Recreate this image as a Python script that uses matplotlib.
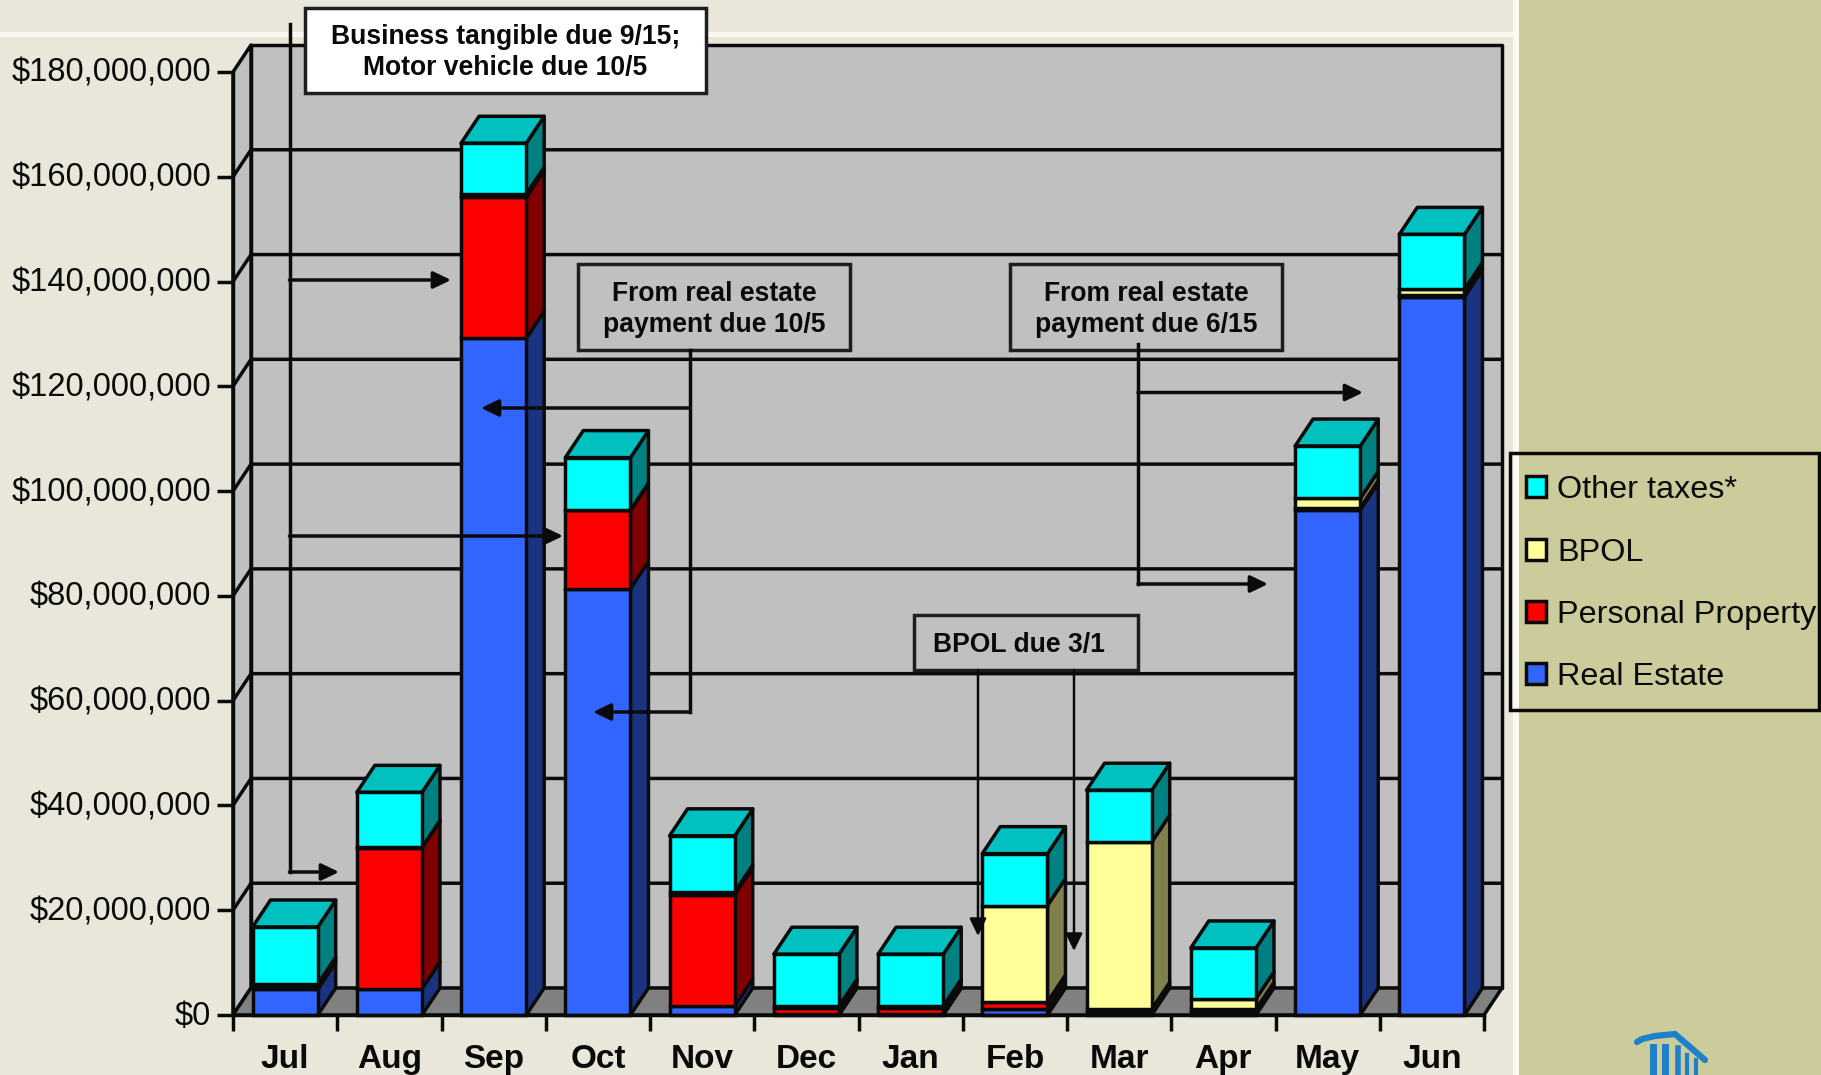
import matplotlib
matplotlib.use('Agg')
import matplotlib.pyplot as plt
import numpy as np
from matplotlib.patches import Polygon, Rectangle
from matplotlib.transforms import ScaledTranslation

plt.rcParams['font.family'] = ['Liberation Sans', 'DejaVu Sans']

months = ['Jul', 'Aug', 'Sep', 'Oct', 'Nov', 'Dec', 'Jan', 'Feb', 'Mar', 'Apr', 'May', 'Jun']

# collections per month, in millions of dollars
real_estate = [4.9, 5.0, 129.2, 81.4, 1.7, 0.1, 0.1, 1.2, 0.5, 0.5, 96.4, 137.1]
personal_property = [0.5, 26.9, 26.9, 14.9, 21.3, 1.2, 1.2, 1.3, 0.6, 0.6, 0.4, 0.3]
bpol = [0.5, 0.1, 0.6, 0.1, 0.5, 0.4, 0.4, 18.4, 31.9, 2.0, 1.8, 1.1]
other_taxes = [10.9, 10.5, 9.7, 10.0, 10.7, 9.9, 9.9, 9.9, 9.9, 9.7, 10.0, 10.5]

series_names = ['Real Estate', 'Personal Property', 'BPOL', 'Other taxes*']
series_values = [real_estate, personal_property, bpol, other_taxes]
front_colors = ['#3366FF', '#FF0000', '#FFFF99', '#00FFFF']
side_colors = ['#1A3380', '#800000', '#80804D', '#008080']
top_color = '#00C0C0'

W, H = 1821, 1075
LINE = 2.5
INK = '#0A0A0A'

fig = plt.figure(figsize=(W / 100, H / 100), dpi=100, facecolor='#E9E7DA')

# slide background sits behind everything, in pixel coordinates
bg = fig.add_axes([0, 0, 1, 1], zorder=0)
bg.set_xlim(0, W)
bg.set_ylim(H, 0)
bg.axis('off')
bg.add_patch(Rectangle((1519, 0), W - 1519, H, fc='#CCCB9B', ec='none'))
bg.add_patch(Rectangle((1513, 0), 6, H, fc='#FBF8F2', ec='none'))
bg.add_patch(Rectangle((0, 32), 1519, 5, fc='#FBF8F2', ec='none'))

# the logo in the corner
bg.plot([1637, 1642, 1655, 1675, 1690, 1705], [1042, 1039, 1036, 1034, 1047, 1060],
        color='#1E80C8', lw=4.5, solid_capstyle='round')
for cx, top, lw in [(1653, 1047, 5), (1665, 1047, 5), (1678, 1048, 4), (1687, 1055, 3), (1696, 1060, 3)]:
    bg.plot([cx, cx], [top, 1075], color='#1E80C8', lw=lw)

# front plane of the chart, depth is added by hand below
ax = fig.add_axes([233 / W, 1 - 1015 / H, (1484 - 233) / W, (1015 - 72) / H], zorder=1)
ax.patch.set_alpha(0)
ax.set_xlim(0, 12)
ax.set_ylim(0, 180)

dx = 18 / (1251 / 12)
dy = 27 / (943 / 180)
bar_w = 0.625


def face(points, color, z):
    ax.add_patch(Polygon(points, closed=True, fc=color, ec=INK, lw=LINE, clip_on=False,
                         zorder=z, joinstyle='round'))


# walls and floor
face([(dx, dy), (12 + dx, dy), (12 + dx, 180 + dy), (dx, 180 + dy)], '#C0C0C0', 1)
face([(0, 0), (dx, dy), (dx, 180 + dy), (0, 180)], '#C0C0C0', 1)
face([(0, 0), (12, 0), (12 + dx, dy), (dx, dy)], '#808080', 1)
for level in np.arange(20, 180, 20):
    ax.plot([0, dx, 12 + dx], [level, level + dy, level + dy], color=INK, lw=LINE,
            clip_on=False, zorder=1.5)

# stacked columns with side and top faces
x = np.arange(12) + 0.5
bottom = np.zeros(12)
for vals, name, c, sc in zip(series_values, series_names, front_colors, side_colors):
    vals = np.array(vals)
    ax.bar(x, vals, bar_w, bottom=bottom, color=c, edgecolor=INK, linewidth=LINE, label=name,
           zorder=3, clip_on=False)
    for xi, b, v in zip(x, bottom, vals):
        r = xi + bar_w / 2
        face([(r, b), (r + dx, b + dy), (r + dx, b + v + dy), (r, b + v)], sc, 2.5)
    bottom = bottom + vals
for xi, t in zip(x, bottom):
    l, r = xi - bar_w / 2, xi + bar_w / 2
    face([(l, t), (r, t), (r + dx, t + dy), (l + dx, t + dy)], top_color, 2.6)

# axes
for s in ['top', 'right']:
    ax.spines[s].set_visible(False)
for s in ['left', 'bottom']:
    ax.spines[s].set_linewidth(LINE)
    ax.spines[s].set_color(INK)
    ax.spines[s].set_zorder(4)
ax.set_yticks([0] + list(range(20, 200, 20)))
ax.set_yticklabels(['$0'] + ['${:,.0f},000,000'.format(v) for v in range(20, 200, 20)])
ax.tick_params(axis='y', length=11.5, width=LINE, color=INK, pad=3.5, labelsize=23.6, labelcolor=INK)
shift_up = ScaledTranslation(-1 / 100, 2 / 100, fig.dpi_scale_trans)
for lab in ax.get_yticklabels():
    lab.set_transform(lab.get_transform() + shift_up)
ax.set_xticks(np.arange(13))
ax.set_xticklabels([])
ax.set_xticks(x, months, minor=True, fontsize=24, fontweight='bold', color=INK)
ax.tick_params(axis='x', which='major', length=11.5, width=LINE, color=INK)
ax.tick_params(axis='x', which='minor', length=0, pad=21)

# legend, reversed so the top of the stack is listed first
handles, labels = ax.get_legend_handles_labels()
leg = fig.legend(handles[::-1], labels[::-1], loc='upper left',
                 bbox_to_anchor=(1510 / W, 1 - 459 / H), fontsize=23.3,
                 frameon=False, handlelength=0.62, handleheight=0.62, handletextpad=0.33,
                 labelspacing=1.0, borderpad=0.5, borderaxespad=0)
leg.set_zorder(5)
for t in leg.get_texts():
    t.set_color(INK)

# callouts and arrows on top, also in pixel coordinates
ov = fig.add_axes([0, 0, 1, 1], zorder=3)
ov.set_xlim(0, W)
ov.set_ylim(H, 0)
ov.axis('off')
ov.add_patch(Rectangle((1510, 453), 309, 257, fc='none', ec=INK, lw=LINE))


def callout(x0, y0, x1, y1, text, fc='none', nudge=0):
    ov.add_patch(Rectangle((x0, y0), x1 - x0, y1 - y0, fc=fc, ec='#1E1E1E', lw=LINE))
    ov.text((x0 + x1) / 2 + nudge, (y0 + y1) / 2 + 2.5, text, ha='center', va='center', fontsize=19.1,
            fontweight='bold', color=INK, linespacing=1.25)


def arrow(x0, y0, x1, y1, lw=LINE):
    ov.annotate('', xy=(x1, y1), xytext=(x0, y0),
                arrowprops=dict(arrowstyle='-|>,head_length=0.62,head_width=0.3', color=INK,
                                lw=lw, shrinkA=0, shrinkB=0, mutation_scale=17))


callout(305, 8, 706, 93, 'Business tangible due 9/15;\nMotor vehicle due 10/5', fc='white')
callout(578, 264, 850, 350, 'From real estate\npayment due 10/5')
callout(1010, 264, 1282, 350, 'From real estate\npayment due 6/15')
callout(914, 615, 1138, 670, 'BPOL due 3/1', nudge=-7)

ov.plot([289.5, 289.5], [24, 872], color=INK, lw=LINE)
arrow(289.5, 280, 451, 280)
arrow(289.5, 536, 563, 536)
arrow(289.5, 872, 339, 872)

ov.plot([690, 690], [350, 712], color=INK, lw=LINE)
arrow(690, 408, 481, 408)
arrow(690, 712, 593, 712)

ov.plot([1138, 1138], [344, 584], color=INK, lw=LINE)
arrow(1138, 392.5, 1363, 392.5)
arrow(1138, 584, 1268, 584)

arrow(978, 670, 978, 936, lw=1.8)
arrow(1074, 670, 1074, 951, lw=1.8)

fig.savefig('out.png', dpi=100, facecolor=fig.get_facecolor())
